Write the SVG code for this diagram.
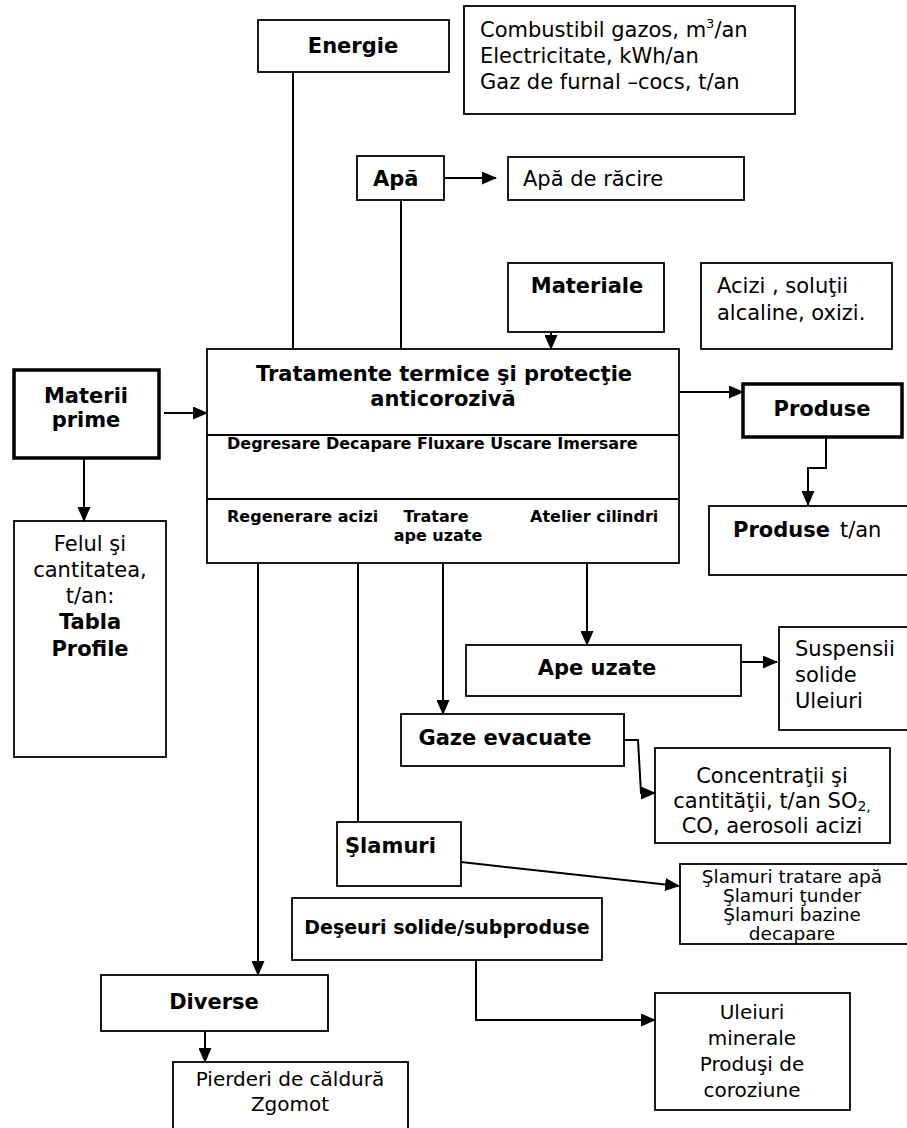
<svg xmlns="http://www.w3.org/2000/svg" width="907" height="1128" viewBox="0 0 907 1128">
  <defs>
    <marker id="arrow" markerUnits="userSpaceOnUse" markerWidth="15" markerHeight="13" refX="14" refY="6.5" orient="auto">
      <path d="M0,0 L15,6.5 L0,13 Z" fill="#000"/>
    </marker>
    <style>
      .box { fill: #fff; stroke: #000; stroke-width: 1.8; }
      .thick { fill: #fff; stroke: #000; stroke-width: 3.5; }
      .line { fill: none; stroke: #000; stroke-width: 2; }
      .arr { fill: none; stroke: #000; stroke-width: 2; marker-end: url(#arrow); }
      text { font-family: "DejaVu Sans", Verdana, sans-serif; fill: #000; }
      .b { font-weight: bold; font-size: 21px; }
      .r { font-size: 21px; }
      .m { font-size: 20px; }
      .s { font-weight: bold; font-size: 16px; }
      .sm { font-size: 18.5px; }
      .c { text-anchor: middle; }
    </style>
  </defs>

  <!-- connectors -->
  <g id="connectors">
    <line class="line" x1="293" y1="72" x2="293" y2="349"/>
    <line class="line" x1="401" y1="200" x2="401" y2="349"/>
    <line class="arr" x1="444" y1="178" x2="496" y2="178"/>
    <line class="arr" x1="551" y1="332" x2="551" y2="349"/>
    <line class="arr" x1="164" y1="413" x2="207" y2="413"/>
    <line class="arr" x1="84" y1="458" x2="84" y2="521"/>
    <line class="arr" x1="680" y1="392" x2="743" y2="392"/>
    <polyline class="arr" points="826,437 826,468 808,468 808,505"/>
    <line class="arr" x1="587" y1="564" x2="587" y2="645"/>
    <line class="arr" x1="443" y1="564" x2="443" y2="714"/>
    <line class="line" x1="358" y1="564" x2="358" y2="822"/>
    <line class="arr" x1="258" y1="564" x2="258" y2="975"/>
    <line class="arr" x1="741" y1="662" x2="777" y2="662"/>
    <polyline class="arr" points="624,740 638,740 641,793 655,793"/>
    <line class="arr" x1="461" y1="862" x2="679" y2="886"/>
    <polyline class="arr" points="476,960 476,1020 655,1020"/>
    <line class="arr" x1="205" y1="1031" x2="205" y2="1062"/>
  </g>

  <g id="energie">
    <rect class="box" x="258" y="20" width="191" height="52"/>
    <text class="b c" x="353" y="53" font-size="21.5">Energie</text>
  </g>

  <g id="combustibil">
    <rect class="box" x="464" y="6" width="331" height="108"/>
    <text class="r" x="480" y="37">Combustibil gazos, m<tspan font-size="13" dy="-9">3</tspan><tspan dy="9">/an</tspan></text>
    <text class="r" x="480" y="63">Electricitate, kWh/an</text>
    <text class="r" x="480" y="89">Gaz de furnal –cocs, t/an</text>
  </g>

  <g id="apa">
    <rect class="box" x="357" y="156" width="87" height="44"/>
    <text class="b" x="373" y="186">Apă</text>
  </g>

  <g id="apa-racire">
    <rect class="box" x="508" y="157" width="236" height="43"/>
    <text class="r" x="523" y="186">Apă de răcire</text>
  </g>

  <g id="materiale">
    <rect class="box" x="508" y="263" width="156" height="69"/>
    <text class="b c" x="587" y="293">Materiale</text>
  </g>

  <g id="acizi">
    <rect class="box" x="701" y="263" width="191" height="86"/>
    <text class="r" x="717" y="293">Acizi , soluţii</text>
    <text class="r" x="717" y="320">alcaline, oxizi.</text>
  </g>

  <g id="tratamente">
    <rect class="box" x="207" y="349" width="472" height="214"/>
    <line class="line" x1="207" y1="435" x2="679" y2="435"/>
    <line class="line" x1="207" y1="499" x2="679" y2="499"/>
    <text class="b c" x="444" y="381">Tratamente termice şi protecţie</text>
    <text class="b c" x="443" y="406">anticorozivă</text>
    <text class="s" x="227" y="449">Degresare Decapare Fluxare Uscare Imersare</text>
    <text class="s" x="227" y="522">Regenerare acizi</text>
    <text class="s c" x="436" y="522">Tratare</text>
    <text class="s c" x="438" y="541">ape uzate</text>
    <text class="s" x="530" y="522">Atelier cilindri</text>
  </g>

  <g id="materii-prime">
    <rect class="thick" x="14" y="370" width="145" height="88"/>
    <text class="b c" x="86" y="403">Materii</text>
    <text class="b c" x="86" y="427">prime</text>
  </g>

  <g id="felul">
    <rect class="box" x="14" y="521" width="152" height="236"/>
    <text class="r c" x="90" y="551">Felul şi</text>
    <text class="r c" x="90" y="577">cantitatea,</text>
    <text class="r c" x="90" y="603">t/an:</text>
    <text class="b c" x="90" y="629">Tabla</text>
    <text class="b c" x="90" y="656">Profile</text>
  </g>

  <g id="produse">
    <rect class="thick" x="743" y="384" width="159" height="53"/>
    <text class="b c" x="822" y="416">Produse</text>
  </g>

  <g id="produse-tan">
    <rect class="box" x="709" y="506" width="202" height="69"/>
    <text x="733" y="537"><tspan class="b">Produse</tspan><tspan class="r" dx="10">t/an</tspan></text>
  </g>

  <g id="ape-uzate">
    <rect class="box" x="466" y="645" width="275" height="51"/>
    <text class="b c" x="597" y="675" font-size="22">Ape uzate</text>
  </g>

  <g id="suspensii">
    <rect class="box" x="779" y="627" width="132" height="103"/>
    <text class="r" x="795" y="656">Suspensii</text>
    <text class="r" x="795" y="682">solide</text>
    <text class="r" x="795" y="708">Uleiuri</text>
  </g>

  <g id="gaze">
    <rect class="box" x="401" y="714" width="223" height="52"/>
    <text class="b c" x="505" y="745" font-size="22">Gaze evacuate</text>
  </g>

  <g id="concentratii">
    <rect class="box" x="655" y="748" width="235" height="95"/>
    <text class="r c" x="772" y="783">Concentraţii şi</text>
    <text class="r c" x="772" y="808">cantităţii, t/an SO<tspan font-size="14" dy="3">2,</tspan></text>
    <text class="r c" x="772" y="833">CO, aerosoli acizi</text>
  </g>

  <g id="slamuri">
    <rect class="box" x="337" y="822" width="124" height="64"/>
    <text class="b" x="345" y="853" font-size="18.5">Şlamuri</text>
  </g>

  <g id="slamuri-lista">
    <rect class="box" x="680" y="864" width="231" height="80"/>
    <text class="sm c" x="792" y="883">Şlamuri tratare apă</text>
    <text class="sm c" x="792" y="902">Şlamuri ţunder</text>
    <text class="sm c" x="792" y="921">Şlamuri bazine</text>
    <text class="sm c" x="792" y="940">decapare</text>
  </g>

  <g id="deseuri">
    <rect class="box" x="292" y="898" width="310" height="62"/>
    <text class="c" x="447" y="934" font-weight="bold" font-size="19">Deşeuri solide/subproduse</text>
  </g>

  <g id="diverse">
    <rect class="box" x="101" y="975" width="227" height="56"/>
    <text class="b c" x="214" y="1009">Diverse</text>
  </g>

  <g id="pierderi">
    <rect class="box" x="173" y="1062" width="235" height="70"/>
    <text class="m c" x="290" y="1086">Pierderi de căldură</text>
    <text class="m c" x="290" y="1111">Zgomot</text>
  </g>

  <g id="uleiuri">
    <rect class="box" x="655" y="993" width="195" height="117"/>
    <text class="m c" x="752" y="1019">Uleiuri</text>
    <text class="m c" x="752" y="1045">minerale</text>
    <text class="m c" x="752" y="1071">Produşi de</text>
    <text class="m c" x="752" y="1097">coroziune</text>
  </g>
</svg>
